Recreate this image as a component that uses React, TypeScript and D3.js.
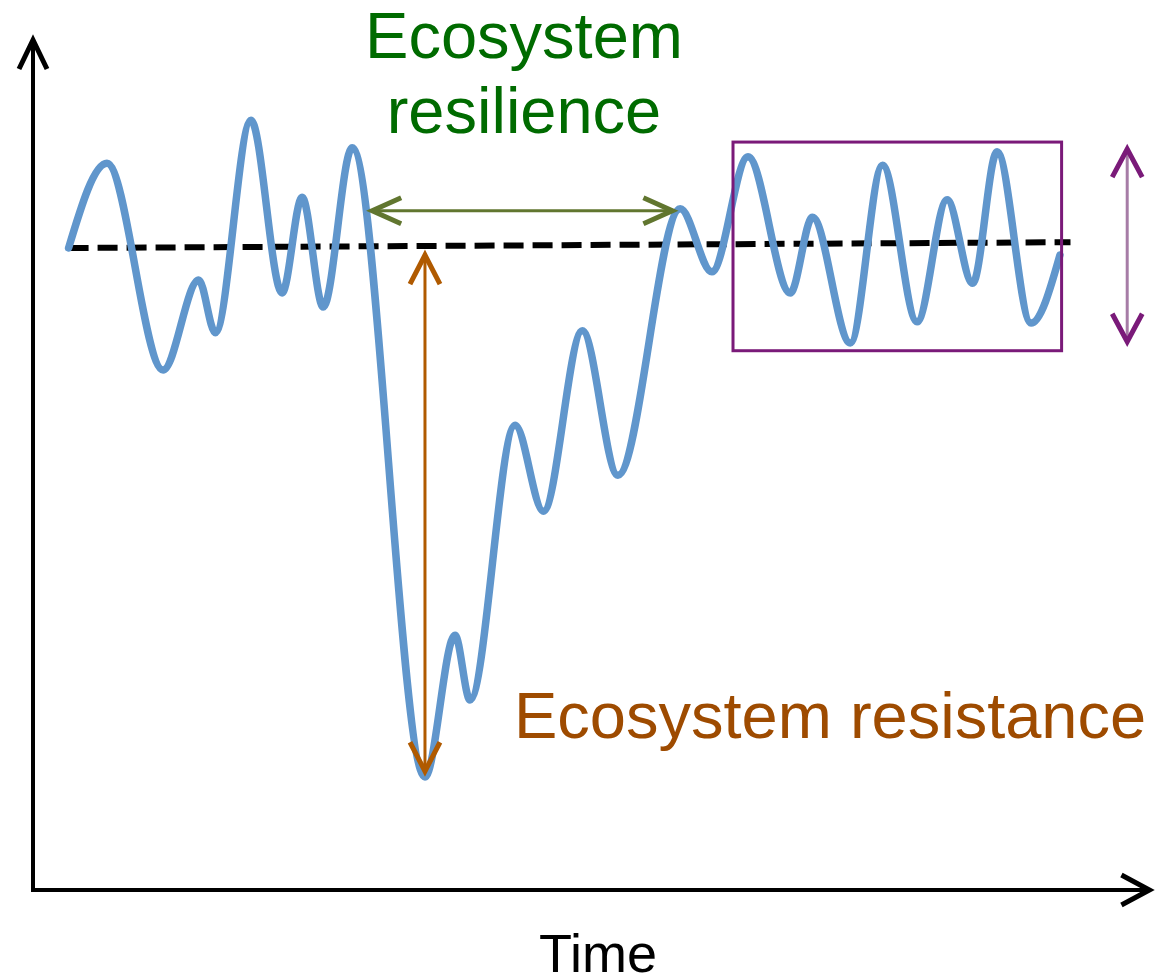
import { useEffect, useRef } from 'react'
import * as d3 from 'd3'

// time runs 0..100 along the x axis, signal 0 = undisturbed baseline
const signalTime = [3.2, 6.65, 11.7, 14.9, 16.4, 19.6, 22.4, 24.2, 26.1, 28.7, 35.25, 37.95, 39.3, 43.35, 45.9, 49.4, 52.6, 58.2, 61.05, 64.3, 68.1, 70.1, 73.5, 76.4, 79.5, 82.2, 84.5, 86.7, 89.75, 92.35]
const signalValue = [0, 13.2, -19, -5, -13.2, 19.9, -7, 7.9, -9.2, 15.6, -82.4, -60.3, -70.4, -27.6, -41, -12.9, -35.4, 6.1, -3.7, 14.2, -7, 4.8, -14.8, 12.9, -11.5, 7.5, -5.5, 15, -11.7, -1.1]

const baselineTime = [3.2, 93.3]
const baselineValue = [0, 0.9]

const resilienceTime = [30.5, 57.5]
const resilienceValue = 5.8
const resistanceTime = 35.25
const resistanceValue = [-1.1, -81.5]
const boxTime = [62.95, 92.5]
const boxValue = [-16, 16.5]
const varianceTime = 98.4
const varianceValue = [15.4, -14.6]

const resilienceLabel = ['Ecosystem', 'resilience']
const resistanceLabel = 'Ecosystem resistance'
const xLabel = 'Time'

const FONT = '"Liberation Sans", Arial, sans-serif'

export default function App() {
  const svgRef = useRef<SVGSVGElement>(null)

  useEffect(() => {
    if (!svgRef.current) return
    const W = 1156
    const H = 977

    const svg = d3.select(svgRef.current)
    svg.selectAll('*').remove()
    svg.attr('width', W).attr('height', H).attr('viewBox', `0 0 ${W} ${H}`)

    const x = d3.scaleLinear().domain([0, 100]).range([33, 1145])
    const y = d3.scaleLinear().domain([-100, 0]).range([890, 248])

    // open chevron heads
    const head = (tx: number, ty: number, dx: number, dy: number, len: number, half: number) => {
      // dx,dy = unit direction the arrow points to
      const bx = tx - dx * len
      const by = ty - dy * len
      const px = -dy * half
      const py = dx * half
      return `M${bx + px},${by + py}L${tx},${ty}L${bx - px},${by - py}`
    }

    // Axes
    const x0 = x(0)
    const yBottom = y(-100)
    svg.append('path')
      .attr('d', `M${x0},${yBottom}L${x0},${y(32.4)}M${x0 - 2},${yBottom}L${x(100.4)},${yBottom}`)
      .attr('stroke', '#000').attr('stroke-width', 4).attr('fill', 'none')
    svg.append('path')
      .attr('d', head(x0, y(32.4), 0, -1, 29, 14) + head(x(100.4), yBottom, 1, 0, 28, 15))
      .attr('stroke', '#000').attr('stroke-width', 5).attr('fill', 'none')

    svg.append('text')
      .attr('x', 598).attr('y', 972)
      .attr('text-anchor', 'middle')
      .attr('font-family', FONT).attr('font-size', 54)
      .attr('fill', '#000')
      .text(xLabel)

    // Baseline (dashed)
    const baseline = baselineTime.map((t, i) => ({ t, v: baselineValue[i] }))
    svg.append('path')
      .datum(baseline)
      .attr('d', d3.line<{ t: number; v: number }>().x(d => x(d.t)).y(d => y(d.v)))
      .attr('stroke', '#000').attr('stroke-width', 6)
      .attr('stroke-dasharray', '20,9').attr('fill', 'none')

    // Signal
    const signal = signalTime.map((t, i) => ({ t, v: signalValue[i] }))
    svg.append('path')
      .datum(signal)
      .attr('d', d3.line<{ t: number; v: number }>()
        .x(d => x(d.t)).y(d => y(d.v))
        .curve(d3.curveMonotoneX))
      .attr('stroke', '#6096cc').attr('stroke-width', 7.5)
      .attr('stroke-linecap', 'round').attr('stroke-linejoin', 'round')
      .attr('fill', 'none')

    // Resilience arrow (green)
    const gx1 = x(resilienceTime[0])
    const gx2 = x(resilienceTime[1])
    const gy = y(resilienceValue)
    svg.append('line')
      .attr('x1', gx1 + 2).attr('x2', gx2 - 2).attr('y1', gy).attr('y2', gy)
      .attr('stroke', '#61762f').attr('stroke-width', 3)
    svg.append('path')
      .attr('d', head(gx1, gy, -1, 0, 29, 13) + head(gx2, gy, 1, 0, 29, 13))
      .attr('stroke', '#61762f').attr('stroke-width', 5).attr('fill', 'none')

    // Resistance arrow (orange)
    const ox = x(resistanceTime)
    const oy1 = y(resistanceValue[0])
    const oy2 = y(resistanceValue[1])
    svg.append('line')
      .attr('x1', ox).attr('x2', ox).attr('y1', oy1 + 2).attr('y2', oy2 - 2)
      .attr('stroke', '#b05a00').attr('stroke-width', 3)
    svg.append('path')
      .attr('d', head(ox, oy1, 0, -1, 29, 15) + head(ox, oy2, 0, 1, 29, 15))
      .attr('stroke', '#b05a00').attr('stroke-width', 5).attr('fill', 'none')

    // Variability box + arrow (purple)
    svg.append('rect')
      .attr('x', x(boxTime[0])).attr('y', y(boxValue[1]))
      .attr('width', x(boxTime[1]) - x(boxTime[0]))
      .attr('height', y(boxValue[0]) - y(boxValue[1]))
      .attr('fill', 'none').attr('stroke', '#7a1a79').attr('stroke-width', 3)
    const px = x(varianceTime)
    const py1 = y(varianceValue[0])
    const py2 = y(varianceValue[1])
    svg.append('line')
      .attr('x1', px).attr('x2', px).attr('y1', py1 + 3).attr('y2', py2 - 3)
      .attr('stroke', '#a67ca6').attr('stroke-width', 3)
    svg.append('path')
      .attr('d', head(px, py1, 0, -1, 28, 15) + head(px, py2, 0, 1, 28, 15))
      .attr('stroke', '#7a1a79').attr('stroke-width', 5).attr('fill', 'none')

    // Labels
    svg.append('text')
      .attr('x', 524).attr('y', 58)
      .attr('text-anchor', 'middle')
      .attr('font-family', FONT).attr('font-size', 65)
      .attr('fill', '#006b00')
      .selectAll('tspan')
      .data(resilienceLabel)
      .enter()
      .append('tspan')
      .attr('x', 524)
      .attr('dy', (_, i) => (i === 0 ? 0 : 75))
      .text(d => d)

    svg.append('text')
      .attr('x', 514).attr('y', 738)
      .attr('font-family', FONT).attr('font-size', 65)
      .attr('fill', '#9e4b00')
      .text(resistanceLabel)
  }, [])

  return (
    <svg ref={svgRef} style={{ position: 'absolute', left: 0, top: 0, background: '#fff' }} />
  )
}
